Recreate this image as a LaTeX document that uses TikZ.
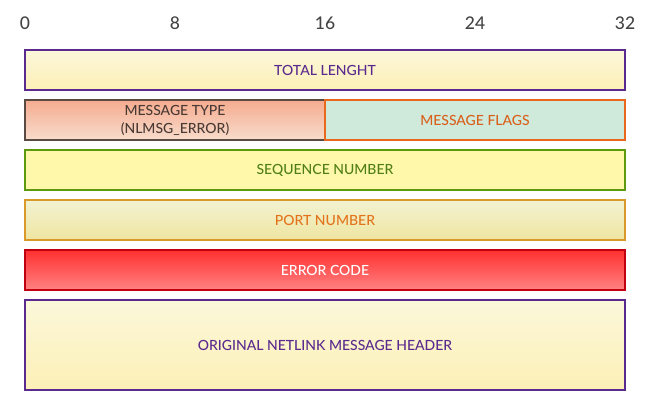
\documentclass[tikz,border=0pt]{standalone}
\usepackage{fontspec}
\setmainfont{Lato}
\newfontfamily\boxfont{Lato Medium}
\definecolor{purp}{HTML}{5A2A8E}
\definecolor{lightyA}{HTML}{FBF7DA}
\definecolor{lightyB}{HTML}{FDF0B6}
\definecolor{salA}{HTML}{F5AC90}
\definecolor{salB}{HTML}{F8DCCC}
\definecolor{dgray}{HTML}{5A4A44}
\definecolor{dgtext}{HTML}{4A3A34}
\definecolor{mint}{HTML}{CFE9DB}
\definecolor{orng}{HTML}{E8691E}
\definecolor{orngtext}{HTML}{D9601A}
\definecolor{pyel}{HTML}{FFF8AA}
\definecolor{grn}{HTML}{5E9A0E}
\definecolor{grntext}{HTML}{4F7F14}
\definecolor{portA}{HTML}{F2F2D2}
\definecolor{portB}{HTML}{EFE5A0}
\definecolor{portbd}{HTML}{D99A2B}
\definecolor{porttext}{HTML}{E3731A}
\definecolor{redA}{HTML}{FF3030}
\definecolor{redB}{HTML}{FF8282}
\definecolor{redbd}{HTML}{C00010}
\definecolor{scale}{HTML}{444444}
\begin{document}
\begin{tikzpicture}[x=1pt,y=-1pt,
  field/.style={draw, line width=2pt, minimum width=#1, minimum height=40pt, inner sep=0pt,
    font=\boxfont\fontsize{14}{18}\selectfont, align=center},
  field/.default=600pt,
  bitlabel/.style={text=scale, font=\boxfont\fontsize{17.5}{20}\selectfont, inner sep=0pt}]
\useasboundingbox (0,0) rectangle (649,405);
\node[bitlabel] (b0) at (25,23) {0};
\node[bitlabel] (b8) at (175,23) {8};
\node[bitlabel] (b16) at (325,23) {16};
\node[bitlabel] (b24) at (475,23) {24};
\node[bitlabel] (b32) at (625,23) {32};
\node[field, draw=purp, top color=lightyA, bottom color=lightyB, text=purp] (total) at (325,70) {TOTAL LENGHT};
\node[field=300pt, draw=dgray, top color=salA, bottom color=salB, text=dgtext] (mtype) at (175,120) {MESSAGE TYPE\\(NLMSG\_ERROR)};
\node[field=300pt, draw=orng, fill=mint, text=orngtext] (mflags) at (475,120) {MESSAGE FLAGS};
\node[field, draw=grn, fill=pyel, text=grntext] (seq) at (325,170) {SEQUENCE NUMBER};
\node[field, draw=portbd, top color=portA, bottom color=portB, text=porttext] (port) at (325,220) {PORT NUMBER};
\node[field, draw=redbd, top color=redA, bottom color=redB, text=white] (err) at (325,270) {ERROR CODE};
\node[field, minimum height=90pt, draw=purp, top color=lightyA, bottom color=lightyB, text=purp] (orig) at (325,345) {ORIGINAL NETLINK MESSAGE HEADER};
\end{tikzpicture}
\end{document}
